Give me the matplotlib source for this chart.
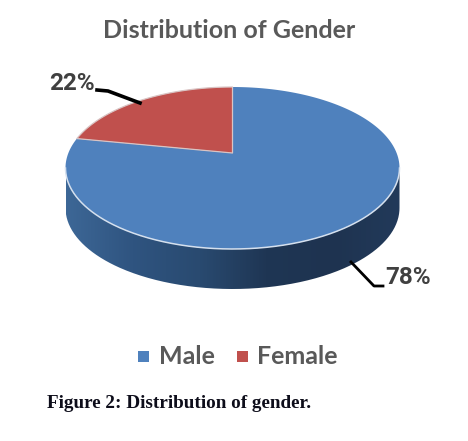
import numpy as np
import matplotlib
matplotlib.use('Agg')
import matplotlib.pyplot as plt
from matplotlib.colors import LinearSegmentedColormap
from matplotlib.patches import PathPatch, Polygon, Rectangle
from matplotlib.path import Path

labels = ['Male', 'Female']
shares = [78, 22]
colors = ['#4f81bd', '#c0504d']

# rim ellipse and the point the slices meet at (tilted view, so not the centre)
cx, cy, rx, ry = 232.5, 168, 167, 81
apex = np.array([232.5, 153])
depth = 40


def rim_point(theta):
    # ray from the apex, theta clockwise from the top, cut with the rim ellipse
    d = np.array([rx * np.sin(theta), -ry * np.cos(theta)])
    ox, oy = apex[0] - cx, apex[1] - cy
    a = (d[0] / rx) ** 2 + (d[1] / ry) ** 2
    b = 2 * (ox * d[0] / rx ** 2 + oy * d[1] / ry ** 2)
    c = (ox / rx) ** 2 + (oy / ry) ** 2 - 1
    t = (-b + np.sqrt(b * b - 4 * a * c)) / (2 * a)
    return apex + t * d


def wedge(start, end):
    thetas = np.linspace(start, end, 200)
    return np.vstack([apex, [rim_point(t) for t in thetas]])


fig = plt.figure(figsize=(4.68, 4.41), dpi=100)
ax = fig.add_axes([0, 0, 1, 1])
ax.set_xlim(0, 468)
ax.set_ylim(441, 0)
ax.axis('off')

# side of the pie
phi = np.linspace(0, np.pi, 300)
lower_x = cx + rx * np.cos(phi)
lower_y = cy + ry * np.sin(phi)
band = np.vstack([np.c_[lower_x, lower_y],
                  np.c_[lower_x[::-1], lower_y[::-1] + depth]])
band_patch = PathPatch(Path(band), fc='none', ec='none')
ax.add_patch(band_patch)
side_cmap = LinearSegmentedColormap.from_list(
    'side', ['#3d6796', '#2f5480', '#294a70', '#1f3654', '#1e3350', '#223a5a'])
grad = np.linspace(0, 1, 256).reshape(1, -1)
im = ax.imshow(grad, cmap=side_cmap, aspect='auto',
               extent=[cx - rx, cx + rx, cy + ry + depth, cy])
im.set_clip_path(band_patch)
ax.set_xlim(0, 468)
ax.set_ylim(441, 0)

# top of the pie, clockwise from 12 o'clock
edges = ['none', '#d9c4c4']
start = 0
for label, share, color, edge in zip(labels, shares, colors, edges):
    end = start + share / sum(shares) * 2 * np.pi
    ax.add_patch(Polygon(wedge(start, end), closed=True, fc=color,
                         ec=edge, lw=0.9, joinstyle='round', zorder=3))
    start = end

# pale highlight along the front rim
ax.plot(lower_x, lower_y, color='#d5e0ee', lw=1.1, zorder=4)

# leader lines
ax.plot([97, 108, 140], [90, 91, 103], color='black', lw=2.6, zorder=5)
ax.plot([351, 374, 383], [262, 286, 286], color='black', lw=2, zorder=5)

grey = '#404040'
ax.text(72, 84, f'{shares[1]}%', fontsize=17.5, fontweight='bold', color=grey,
        family='Roboto', ha='center', va='center')
ax.text(408.5, 278, f'{shares[0]}%', fontsize=17.5, fontweight='bold', color=grey,
        family='Roboto', ha='center', va='center')

ax.text(229, 30, 'Distribution of Gender', fontsize=18, fontweight='bold',
        color='#595959', family='Lato', ha='center', va='center')

# legend
for x, color in zip([143, 242], colors):
    ax.add_patch(Rectangle((x - 5.5, 350.5), 11, 11, fc=color, ec='none'))
for x, label in zip([159, 257], labels):
    ax.text(x, 356, label, fontsize=18, fontweight='bold', color='#595959',
            family='Lato', ha='left', va='center')

ax.text(47, 403, 'Figure 2: Distribution of gender.', fontsize=13.8,
        fontweight='bold', color='#0d0d1a', family='Liberation Serif',
        ha='left', va='center')

fig.savefig('out.png', dpi=100)
